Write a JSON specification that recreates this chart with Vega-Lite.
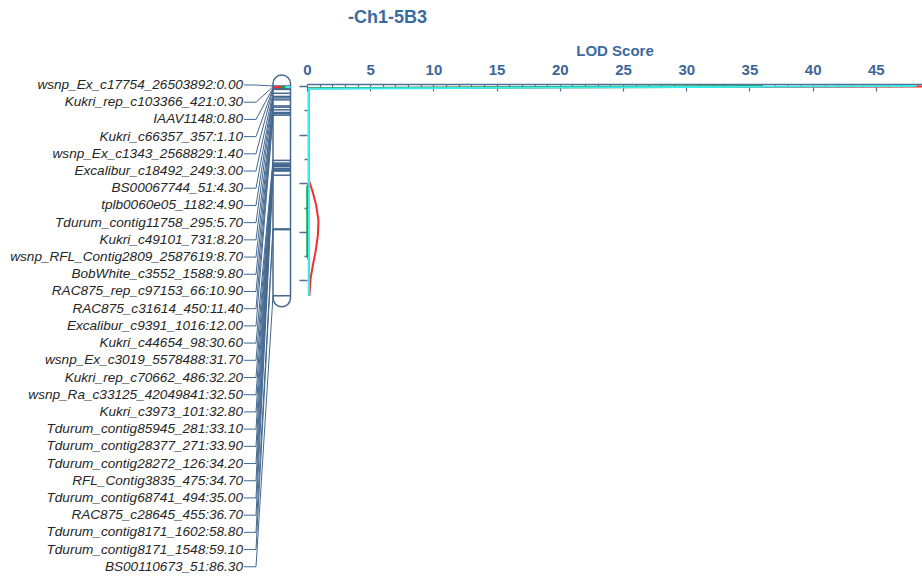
{
  "$schema": "https://vega.github.io/schema/vega-lite/v6.json",
  "width": 615,
  "height": 490,
  "autosize": "none",
  "padding": {"left": 307, "top": 86, "right": 0, "bottom": 0},
  "background": "white",
  "config": {"view": {"stroke": null}, "font": "Liberation Sans"},
  "title": {
    "text": "-Ch1-5B3",
    "anchor": "start",
    "frame": "group",
    "dx": 41,
    "offset": 16,
    "font": "Liberation Sans",
    "fontSize": 18,
    "fontWeight": "bold",
    "color": "#3b6aa0"
  },
  "datasets": {
    "markers": [
      {"marker": "wsnp_Ex_c17754_26503892", "cM": 0.0},
      {"marker": "Kukri_rep_c103366_421", "cM": 0.3},
      {"marker": "IAAV1148", "cM": 0.8},
      {"marker": "Kukri_c66357_357", "cM": 1.1},
      {"marker": "wsnp_Ex_c1343_2568829", "cM": 1.4},
      {"marker": "Excalibur_c18492_249", "cM": 3.0},
      {"marker": "BS00067744_51", "cM": 4.3},
      {"marker": "tplb0060e05_1182", "cM": 4.9},
      {"marker": "Tdurum_contig11758_295", "cM": 5.7},
      {"marker": "Kukri_c49101_731", "cM": 8.2},
      {"marker": "wsnp_RFL_Contig2809_2587619", "cM": 8.7},
      {"marker": "BobWhite_c3552_1588", "cM": 9.8},
      {"marker": "RAC875_rep_c97153_66", "cM": 10.9},
      {"marker": "RAC875_c31614_450", "cM": 11.4},
      {"marker": "Excalibur_c9391_1016", "cM": 12.0},
      {"marker": "Kukri_c44654_98", "cM": 30.6},
      {"marker": "wsnp_Ex_c3019_5578488", "cM": 31.7},
      {"marker": "Kukri_rep_c70662_486", "cM": 32.2},
      {"marker": "wsnp_Ra_c33125_42049841", "cM": 32.5},
      {"marker": "Kukri_c3973_101", "cM": 32.8},
      {"marker": "Tdurum_contig85945_281", "cM": 33.1},
      {"marker": "Tdurum_contig28377_271", "cM": 33.9},
      {"marker": "Tdurum_contig28272_126", "cM": 34.2},
      {"marker": "RFL_Contig3835_475", "cM": 34.7},
      {"marker": "Tdurum_contig68741_494", "cM": 35.0},
      {"marker": "RAC875_c28645_455", "cM": 36.7},
      {"marker": "Tdurum_contig8171_1602", "cM": 58.8},
      {"marker": "Tdurum_contig8171_1548", "cM": 59.1},
      {"marker": "BS00110673_51", "cM": 86.3}
    ],
    "chrom": [{"chrom": "5B3", "start": 0, "end": 86.3}],
    "qtl": [
      {"trait": "Trait 1", "start": 0, "end": 0.9},
      {"trait": "Trait 2", "start": 0, "end": 0.9},
      {"trait": "Trait 3", "start": 0, "end": 0.9}
    ],
    "lod": [
      {"trait": "Trait 1", "cM": 0.0, "lod": 60},
      {"trait": "Trait 1", "cM": 0.9, "lod": 0.15},
      {"trait": "Trait 1", "cM": 10, "lod": 0.15},
      {"trait": "Trait 1", "cM": 20, "lod": 0.15},
      {"trait": "Trait 1", "cM": 30, "lod": 0.15},
      {"trait": "Trait 1", "cM": 38.9, "lod": 0.15},
      {"trait": "Trait 1", "cM": 43.7, "lod": 0.46},
      {"trait": "Trait 1", "cM": 49.2, "lod": 0.73},
      {"trait": "Trait 1", "cM": 55.4, "lod": 0.91},
      {"trait": "Trait 1", "cM": 61.5, "lod": 0.86},
      {"trait": "Trait 1", "cM": 68.4, "lod": 0.67},
      {"trait": "Trait 1", "cM": 73.8, "lod": 0.46},
      {"trait": "Trait 1", "cM": 79.3, "lod": 0.28},
      {"trait": "Trait 1", "cM": 85.5, "lod": 0.2},
      {"trait": "Trait 1", "cM": 86.3, "lod": 0.18},
      {"trait": "Trait 2", "cM": 0.0, "lod": 36},
      {"trait": "Trait 2", "cM": 0.9, "lod": 0.15},
      {"trait": "Trait 2", "cM": 20, "lod": 0.15},
      {"trait": "Trait 2", "cM": 40, "lod": 0.15},
      {"trait": "Trait 2", "cM": 41.5, "lod": 0.02},
      {"trait": "Trait 2", "cM": 50, "lod": 0.02},
      {"trait": "Trait 2", "cM": 60, "lod": 0.02},
      {"trait": "Trait 2", "cM": 70, "lod": 0.02},
      {"trait": "Trait 2", "cM": 71.5, "lod": 0.15},
      {"trait": "Trait 2", "cM": 86.3, "lod": 0.15},
      {"trait": "Trait 3", "cM": 0.0, "lod": 48.2},
      {"trait": "Trait 3", "cM": 1.1, "lod": 0.15},
      {"trait": "Trait 3", "cM": 12, "lod": 0.15},
      {"trait": "Trait 3", "cM": 36.7, "lod": 0.15},
      {"trait": "Trait 3", "cM": 59.1, "lod": 0.15},
      {"trait": "Trait 3", "cM": 86.3, "lod": 0.15}
    ]
  },
  "layer": [
    {
      "data": {"name": "lod"},
      "mark": {"type": "line", "strokeWidth": 2},
      "encoding": {
        "x": {
          "field": "lod",
          "type": "quantitative",
          "scale": {"domain": [0, 48.65], "nice": false, "zero": false},
          "axis": {
            "orient": "top",
            "offset": 2,
            "values": [0,1,2,3,4,5,6,7,8,9,10,11,12,13,14,15,16,17,18,19,20,21,22,23,24,25,26,27,28,29,30,31,32,33,34,35,36,37,38,39,40,41,42,43,44,45,46,47,48],
            "labelExpr": "datum.value % 5 === 0 ? datum.label : ''",
            "labelFlush": false,
            "labelOverlap": false,
            "labelFont": "Liberation Sans",
            "labelFontSize": 15,
            "labelFontWeight": "bold",
            "labelColor": "#3c669a",
            "labelPadding": 14,
            "tickColor": "#4f6f96",
            "tickWidth": 1.2,
            "tickSize": {"condition": {"test": "datum.value % 5 === 0", "value": -7}, "value": -3},
            "domainColor": "#4f6f96",
            "domainWidth": 1.5,
            "grid": false,
            "title": "LOD Score",
            "titleFont": "Liberation Sans",
            "titleFontSize": 15,
            "titleFontWeight": "bold",
            "titleColor": "#3c6aa0",
            "titlePadding": 0
          }
        },
        "y": {
          "field": "cM",
          "type": "quantitative",
          "scale": {"domain": [0, 201.6], "nice": false, "zero": false, "reverse": true},
          "axis": {
            "orient": "left",
            "values": [0, 10, 20, 30, 40, 50, 60, 70, 80],
            "labels": false,
            "domain": false,
            "grid": false,
            "title": null,
            "tickColor": "#4f6f96",
            "tickWidth": 1.5,
            "tickSize": {"condition": {"test": "datum.value % 20 === 0", "value": 8}, "value": 3}
          }
        },
        "color": {
          "field": "trait",
          "type": "nominal",
          "scale": {"domain": ["Trait 1", "Trait 2", "Trait 3"], "range": ["#f0302c", "#16a34a", "#38ecec"]},
          "legend": null
        },
        "order": {"field": "cM", "type": "quantitative"}
      }
    },
    {
      "layer": [
        {
          "data": {"name": "chrom"},
          "mark": {"type": "rect", "fill": "white", "stroke": "#44688f", "strokeWidth": 1.5, "cornerRadius": 9, "yOffset": -11, "y2Offset": 11},
          "encoding": {
            "x": {"datum": 29, "type": "quantitative", "scale": {"domain": [0, 46.5], "range": [-63, -16.5], "nice": false, "zero": false}, "axis": null},
            "x2": {"datum": 46.5},
            "y": {"field": "start", "type": "quantitative", "scale": {"domain": [0, 201.6], "nice": false, "zero": false, "reverse": true}, "axis": null},
            "y2": {"field": "end"}
          }
        },
        {
          "data": {"name": "markers"},
          "transform": [
            {"window": [{"op": "row_number", "as": "idx"}], "sort": [{"field": "cM", "order": "ascending"}]},
            {"calculate": "-0.41 + (datum.idx - 1) * 7.079", "as": "labelY"},
            {"calculate": "datum.marker + ':' + format(datum.cM, '.2f')", "as": "label"}
          ],
          "layer": [
            {
              "mark": {"type": "rule", "stroke": "#44688f", "strokeWidth": 1},
              "encoding": {
                "x": {"datum": 0, "type": "quantitative", "scale": {"domain": [0, 46.5], "range": [-63, -16.5], "nice": false, "zero": false}, "axis": null},
                "x2": {"datum": 12},
                "y": {"field": "labelY", "type": "quantitative", "scale": {"domain": [0, 201.6], "nice": false, "zero": false, "reverse": true}, "axis": null}
              }
            },
            {
              "mark": {"type": "rule", "stroke": "#44688f", "strokeWidth": 1},
              "encoding": {
                "x": {"datum": 12, "type": "quantitative", "scale": {"domain": [0, 46.5], "range": [-63, -16.5], "nice": false, "zero": false}, "axis": null},
                "x2": {"datum": 29},
                "y": {"field": "labelY", "type": "quantitative", "scale": {"domain": [0, 201.6], "nice": false, "zero": false, "reverse": true}, "axis": null},
                "y2": {"field": "cM"}
              }
            },
            {
              "mark": {"type": "rule", "stroke": "#44688f", "strokeWidth": 1.5},
              "encoding": {
                "x": {"datum": 29, "type": "quantitative", "scale": {"domain": [0, 46.5], "range": [-63, -16.5], "nice": false, "zero": false}, "axis": null},
                "x2": {"datum": 46.5},
                "y": {"field": "cM", "type": "quantitative", "scale": {"domain": [0, 201.6], "nice": false, "zero": false, "reverse": true}, "axis": null}
              }
            },
            {
              "mark": {"type": "text", "align": "right", "baseline": "middle", "dx": -1, "font": "Liberation Sans", "fontStyle": "italic", "fontSize": 13.6, "color": "#262626"},
              "encoding": {
                "x": {"datum": 0, "type": "quantitative", "scale": {"domain": [0, 46.5], "range": [-63, -16.5], "nice": false, "zero": false}, "axis": null},
                "y": {"field": "labelY", "type": "quantitative", "scale": {"domain": [0, 201.6], "nice": false, "zero": false, "reverse": true}, "axis": null},
                "text": {"field": "label"}
              }
            }
          ]
        },
        {
          "data": {"name": "qtl"},
          "transform": [{"filter": "datum.trait === 'Trait 1'"}],
          "mark": {"type": "rect"},
          "encoding": {
            "x": {"datum": 29, "type": "quantitative", "scale": {"domain": [0, 46.5], "range": [-63, -16.5], "nice": false, "zero": false}, "axis": null},
            "x2": {"datum": 37},
            "y": {"field": "start", "type": "quantitative", "scale": {"domain": [0, 201.6], "nice": false, "zero": false, "reverse": true}, "axis": null},
            "y2": {"field": "end"},
            "color": {"field": "trait", "type": "nominal", "scale": {"domain": ["Trait 1", "Trait 2", "Trait 3"], "range": ["#f0302c", "#16a34a", "#38ecec"]}, "legend": null}
          }
        },
        {
          "data": {"name": "qtl"},
          "transform": [{"filter": "datum.trait === 'Trait 2'"}],
          "mark": {"type": "rect"},
          "encoding": {
            "x": {"datum": 37, "type": "quantitative", "scale": {"domain": [0, 46.5], "range": [-63, -16.5], "nice": false, "zero": false}, "axis": null},
            "x2": {"datum": 41.5},
            "y": {"field": "start", "type": "quantitative", "scale": {"domain": [0, 201.6], "nice": false, "zero": false, "reverse": true}, "axis": null},
            "y2": {"field": "end"},
            "color": {"field": "trait", "type": "nominal", "scale": {"domain": ["Trait 1", "Trait 2", "Trait 3"], "range": ["#f0302c", "#16a34a", "#38ecec"]}, "legend": null}
          }
        },
        {
          "data": {"name": "qtl"},
          "transform": [{"filter": "datum.trait === 'Trait 3'"}],
          "mark": {"type": "rect"},
          "encoding": {
            "x": {"datum": 41.5, "type": "quantitative", "scale": {"domain": [0, 46.5], "range": [-63, -16.5], "nice": false, "zero": false}, "axis": null},
            "x2": {"datum": 46.5},
            "y": {"field": "start", "type": "quantitative", "scale": {"domain": [0, 201.6], "nice": false, "zero": false, "reverse": true}, "axis": null},
            "y2": {"field": "end"},
            "color": {"field": "trait", "type": "nominal", "scale": {"domain": ["Trait 1", "Trait 2", "Trait 3"], "range": ["#f0302c", "#16a34a", "#38ecec"]}, "legend": null}
          }
        }
      ]
    }
  ],
  "resolve": {"scale": {"x": "independent", "y": "independent"}}
}
